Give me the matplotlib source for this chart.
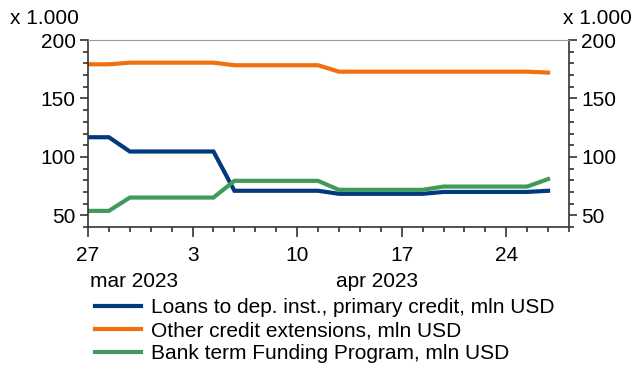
import matplotlib
matplotlib.use("Agg")
import matplotlib.pyplot as plt
from matplotlib.ticker import MultipleLocator, FixedLocator
import pandas as pd

plt.rcParams['font.family'] = ['Liberation Sans', 'DejaVu Sans']
plt.rcParams['font.size'] = 15

# business days shown on the axis
days = pd.bdate_range('2023-03-27', '2023-04-27')

# daily values (x 1.000 mln USD), Mar 27 .. Apr 26
loans = [116.8, 116.8, 104.6, 104.6, 104.6, 104.6, 104.6,
         71.0, 71.0, 71.0, 71.0, 71.0,
         68.4, 68.4, 68.4, 68.4, 68.4,
         70.0, 70.0, 70.0, 70.0, 70.0, 71.0]
other = [179.2, 179.2, 180.6, 180.6, 180.6, 180.6, 180.6,
         178.4, 178.4, 178.4, 178.4, 178.4,
         172.9, 172.9, 172.9, 172.9, 172.9,
         172.9, 172.9, 172.9, 172.9, 172.9, 172.1]
btfp = [53.8, 53.8, 65.2, 65.2, 65.2, 65.2, 65.2,
        79.5, 79.5, 79.5, 79.5, 79.5,
        71.8, 71.8, 71.8, 71.8, 71.8,
        74.6, 74.6, 74.6, 74.6, 74.6, 81.0]

labels = ['Loans to dep. inst., primary credit, mln USD',
          'Other credit extensions, mln USD',
          'Bank term Funding Program, mln USD']
colors = ['#003A7D', '#F07010', '#3F9A5C']

fig = plt.figure(figsize=(6.4, 3.65), dpi=100)
ax = fig.add_axes([88 / 640, 1 - 227 / 365, (569 - 88) / 640, (227 - 40) / 365])

x = list(range(len(loans)))
for ys, lab, c in zip([loans, other, btfp], labels, colors):
    ax.plot(x, ys, color=c, lw=3, label=lab, solid_joinstyle='miter')

ax.set_xlim(0, len(days) - 1)
ax.set_ylim(40, 200)

# y axis both sides
ax.yaxis.set_major_locator(FixedLocator([50, 100, 150, 200]))
ax.yaxis.set_minor_locator(MultipleLocator(10))
ax.tick_params(axis='y', which='both', left=True, right=True,
               labelleft=True, labelright=True, direction='out', color='#333333', width=1.2)
ax.tick_params(axis='y', which='major', length=6, pad=3)
ax.tick_params(axis='y', which='minor', length=3.5)

# x axis: monday majors, every business day minor
mondays = [i for i, d in enumerate(days) if d.weekday() == 0]
ax.set_xticks(mondays)
ax.set_xticklabels([str(days[i].day) for i in mondays])
ax.set_xticks(range(len(days)), minor=True)
ax.tick_params(axis='x', which='major', length=7, direction='out', color='#333333', width=1.2, pad=7)
ax.tick_params(axis='x', which='minor', length=3.5, direction='out', color='#333333', width=1.2)

for s in ['left', 'bottom', 'right']:
    ax.spines[s].set_color('#333333')
    ax.spines[s].set_linewidth(1.2)
ax.spines['top'].set_color('#999999')

# month labels under their span
ax.text(2.2, -0.29, 'mar 2023', transform=ax.get_xaxis_transform(), ha='center', va='center')
ax.text(13.8, -0.29, 'apr 2023', transform=ax.get_xaxis_transform(), ha='center', va='center')

fig.text(10 / 640, 1 - 18 / 365, 'x 1.000', ha='left', va='center', fontsize=15)
fig.text(632 / 640, 1 - 18 / 365, 'x 1.000', ha='right', va='center', fontsize=15)

fig.legend(loc='upper left', bbox_to_anchor=(95 / 640, 1 - 298 / 365), frameon=False,
           handlelength=2.2, handletextpad=0.5, labelspacing=0.2, borderpad=0, borderaxespad=0)

fig.savefig('out.png', dpi=100)
